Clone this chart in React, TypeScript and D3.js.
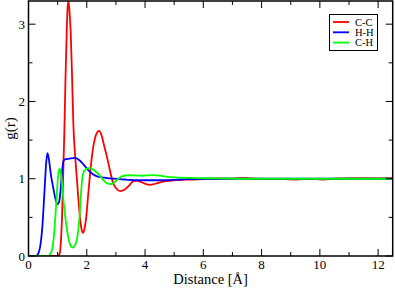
import React from "react";
import * as d3 from "d3";

const ccR = [0, 1.0, 1.06, 1.1, 1.15, 1.19, 1.23, 1.27, 1.31, 1.34, 1.37, 1.4, 1.45, 1.5, 1.54, 1.6, 1.66, 1.72, 1.78, 1.83, 1.87, 1.92, 1.98, 2.05, 2.11, 2.18, 2.25, 2.33, 2.42, 2.5, 2.6, 2.7, 2.8, 2.9, 3.0, 3.15, 3.3, 3.45, 3.6, 3.7, 3.85, 4.0, 4.17, 4.35, 4.57, 5.0, 5.5, 6.0, 6.5, 7.0, 7.35, 7.7, 8.5, 9.2, 9.6, 10.1, 10.5, 11.2, 12.0, 12.5];
const ccG = [0, 0, 0.02, 0.12, 0.5, 1.05, 1.6, 2.3, 2.88, 3.2, 3.3, 3.2, 2.88, 2.25, 1.7, 1.3, 1.0, 0.7, 0.45, 0.33, 0.3, 0.35, 0.5, 0.8, 1.05, 1.3, 1.47, 1.58, 1.62, 1.57, 1.42, 1.27, 1.1, 0.95, 0.88, 0.84, 0.86, 0.91, 0.97, 0.975, 0.96, 0.935, 0.92, 0.935, 0.96, 0.98, 0.99, 0.995, 1.0, 1.0, 1.012, 1.0, 0.998, 0.99, 0.998, 0.99, 1.0, 1.008, 1.005, 1.01];

const hhR = [0, 0.25, 0.32, 0.4, 0.48, 0.55, 0.61, 0.65, 0.7, 0.77, 0.85, 0.93, 1.0, 1.05, 1.1, 1.15, 1.2, 1.25, 1.4, 1.6, 1.75, 1.9, 2.05, 2.2, 2.35, 2.6, 2.9, 3.3, 3.8, 4.5, 5.2, 6.0, 7.0, 8.0, 9.0, 10.0, 11.0, 12.5];
const hhG = [0, 0, 0.02, 0.12, 0.4, 0.85, 1.22, 1.33, 1.25, 1.05, 0.88, 0.73, 0.67, 0.7, 0.85, 1.08, 1.23, 1.25, 1.26, 1.27, 1.24, 1.18, 1.11, 1.06, 1.03, 1.015, 1.0, 0.99, 0.98, 0.98, 0.99, 1.0, 1.0, 1.0, 1.0, 1.0, 1.0, 1.0];

const chR = [0, 0.65, 0.72, 0.8, 0.87, 0.93, 0.98, 1.03, 1.07, 1.12, 1.2, 1.28, 1.36, 1.45, 1.52, 1.6, 1.68, 1.75, 1.8, 1.86, 1.95, 2.1, 2.25, 2.4, 2.55, 2.7, 2.85, 3.0, 3.2, 3.45, 3.8, 4.3, 4.6, 4.9, 5.5, 6.5, 7.5, 12.5];
const chG = [0, 0, 0.01, 0.07, 0.25, 0.55, 0.85, 1.08, 1.13, 1.05, 0.72, 0.45, 0.25, 0.13, 0.11, 0.14, 0.25, 0.5, 0.8, 1.05, 1.12, 1.14, 1.11, 1.06, 0.99, 0.94, 0.93, 0.97, 1.03, 1.045, 1.04, 1.047, 1.035, 1.02, 1.01, 1.005, 1.0, 1.0];

const seriesNames = ["C-C", "H-H", "C-H"];
const seriesColors = ["#ff0000", "#0000ff", "#00ff00"];
const xTicksMajor = [0, 2, 4, 6, 8, 10, 12];
const yTicksMajor = [0, 1, 2, 3];

const W = 395;
const H = 291;
const L = 28.5;
const R = 392.7;
const T = 1;
const B = 256;
const FONT = "Liberation Serif, DejaVu Serif, serif";

export default function App() {
  const x = d3.scaleLinear().domain([0, 12.5]).range([L, R]);
  const y = d3.scaleLinear().domain([0, 3.3]).range([B, T]);
  const series = [
    { r: ccR, g: ccG },
    { r: hhR, g: hhG },
    { r: chR, g: chG },
  ];
  const line = d3
    .line<[number, number]>()
    .x((d) => x(d[0]))
    .y((d) => y(d[1]))
    .curve(d3.curveMonotoneX);

  const xMinor = d3.range(0, 13, 1);
  const yMinor = d3.range(0, 3.31, 0.5);
  const textStyle = { fontFamily: FONT };

  return (
    <svg width={W} height={H} style={{ position: "absolute", left: 0, top: 0, background: "#fff" }}>
      <defs>
        <clipPath id="plotclip">
          <rect x={L} y={T} width={R - L} height={B - T} />
        </clipPath>
      </defs>
      <g clipPath="url(#plotclip)">
        {series.map((s, i) => (
          <path
            key={i}
            d={line(s.r.map((r, j) => [r, s.g[j]] as [number, number])) || ""}
            fill="none"
            stroke={seriesColors[i]}
            strokeWidth={1.8}
            strokeLinejoin="round"
          />
        ))}
      </g>
      <g stroke="#000" strokeWidth={1}>
        {xMinor.map((v) => {
          const major = v % 2 === 0;
          const len = major ? 7 : 4;
          return (
            <g key={"xt" + v}>
              <line x1={x(v)} x2={x(v)} y1={B} y2={B - len} />
              <line x1={x(v)} x2={x(v)} y1={T} y2={T + len} />
            </g>
          );
        })}
        {yMinor.map((v) => {
          const major = Math.abs(v - Math.round(v)) < 1e-6;
          const len = major ? 7 : 4;
          return (
            <g key={"yt" + v}>
              <line x1={L} x2={L + len} y1={y(v)} y2={y(v)} />
              <line x1={R} x2={R - len} y1={y(v)} y2={y(v)} />
            </g>
          );
        })}
      </g>
      <rect x={L} y={T} width={R - L} height={B - T} fill="none" stroke="#000" strokeWidth={1.5} />
      <g style={textStyle} fontSize={13} fill="#000">
        {xTicksMajor.map((v) => (
          <text key={"xl" + v} x={x(v)} y={268.5} textAnchor="middle">
            {v}
          </text>
        ))}
        {yTicksMajor.map((v) => (
          <text key={"yl" + v} x={25} y={y(v) + 4.5} textAnchor="end">
            {v}
          </text>
        ))}
      </g>
      <text x={(L + R) / 2} y={284} textAnchor="middle" style={textStyle} fontSize={14.5}>
        Distance [Å]
      </text>
      <text
        transform={`translate(15,${(T + B) / 2}) rotate(-90)`}
        textAnchor="middle"
        style={textStyle}
        fontSize={15}
      >
        g(r)
      </text>
      <rect x={329.5} y={14.5} width={48} height={36} fill="#fff" stroke="#000" strokeWidth={1} />
      {seriesNames.map((n, i) => {
        const yy = 22 + i * 10.3;
        return (
          <g key={n}>
            <line x1={333} x2={349} y1={yy} y2={yy} stroke={seriesColors[i]} strokeWidth={1.8} />
            <text x={355} y={yy + 3.5} style={textStyle} fontSize={10.5}>
              {n}
            </text>
          </g>
        );
      })}
    </svg>
  );
}
